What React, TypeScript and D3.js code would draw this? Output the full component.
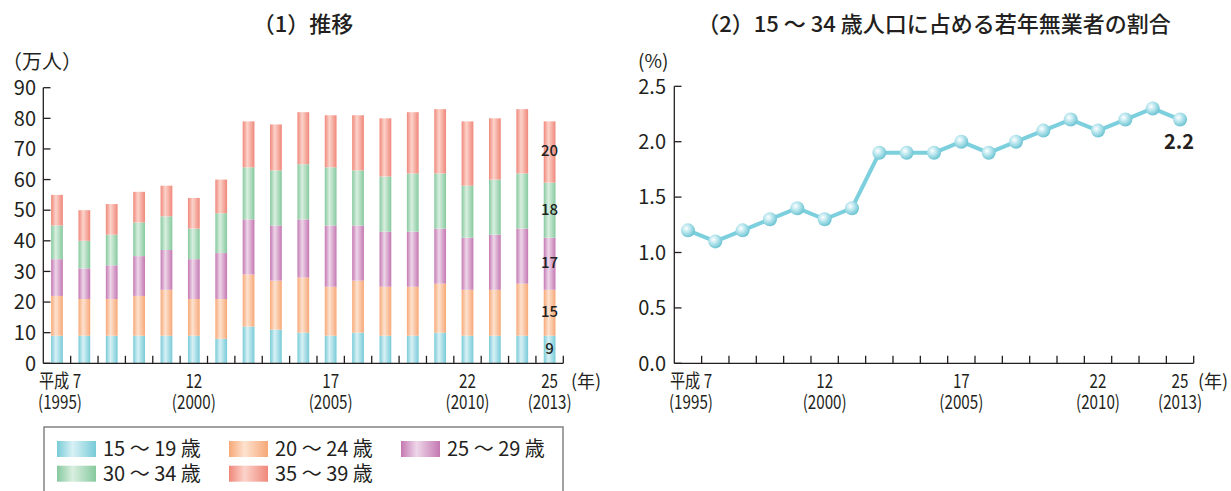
import React from 'react'
import * as d3 from 'd3'

// years (category axis) shared by both panels
const years = [1995, 1996, 1997, 1998, 1999, 2000, 2001, 2002, 2003, 2004, 2005, 2006, 2007, 2008, 2009, 2010, 2011, 2012, 2013]

// (1) unemployed youth by age group, 10k persons
const age15to19 = [9, 9, 9, 9, 9, 9, 8, 12, 11, 10, 9, 10, 9, 9, 10, 9, 9, 9, 9]
const age20to24 = [13, 12, 12, 13, 15, 12, 13, 17, 16, 18, 16, 17, 16, 16, 16, 15, 15, 17, 15]
const age25to29 = [12, 10, 11, 13, 13, 13, 15, 18, 18, 19, 20, 18, 18, 18, 18, 17, 18, 18, 17]
const age30to34 = [11, 9, 10, 11, 11, 10, 13, 17, 18, 18, 19, 18, 18, 19, 18, 17, 18, 18, 18]
const age35to39 = [10, 10, 10, 10, 10, 10, 11, 15, 15, 17, 17, 18, 19, 20, 21, 21, 20, 21, 20]

// (2) share of 15-34 population, %
const ratio = [1.2, 1.1, 1.2, 1.3, 1.4, 1.3, 1.4, 1.9, 1.9, 1.9, 2.0, 1.9, 2.0, 2.1, 2.2, 2.1, 2.2, 2.3, 2.2]

const xTickYears = [1995, 2000, 2005, 2010, 2013]
const xTickTop = ['平成 7', '12', '17', '22', '25']
const xTickBottom = ['(1995)', '(2000)', '(2005)', '(2010)', '(2013)']
const leftTicks = [0, 10, 20, 30, 40, 50, 60, 70, 80, 90]
const rightTicks = [0, 0.5, 1.0, 1.5, 2.0, 2.5]

const groups = [
  { key: 'a', label: '15 ～ 19 歳', values: age15to19, edge: '#78cbd8', light: '#d8f1f5' },
  { key: 'b', label: '20 ～ 24 歳', values: age20to24, edge: '#f7a877', light: '#fde2cf' },
  { key: 'c', label: '25 ～ 29 歳', values: age25to29, edge: '#c478b2', light: '#eed6e9' },
  { key: 'd', label: '30 ～ 34 歳', values: age30to34, edge: '#86c99e', light: '#d9efe0' },
  { key: 'e', label: '35 ～ 39 歳', values: age35to39, edge: '#f0877a', light: '#fcd3ca' },
]

const FONT = '"Noto Sans CJK JP", "Noto Sans", sans-serif'
const INK = '#231f20'

const W = 1231
const H = 491

export default function App() {
  // shared vertical frame
  const y0 = 363.3

  // left panel scales
  const xL = d3.scaleBand<number>().domain(years).range([43.3, 563.3]).padding(0)
  const yL = d3.scaleLinear().domain([0, 90]).range([y0, 87.7])

  // right panel scales
  const xR = d3.scaleBand<number>().domain(years).range([674.3, 1193.7]).padding(0)
  const yR = d3.scaleLinear().domain([0, 2.5]).range([y0, 86.3])

  const table = years.map((yr, i) => {
    const row: any = { year: yr }
    groups.forEach(g => { row[g.key] = g.values[i] })
    return row
  })
  const stack = d3.stack<any>().keys(groups.map(g => g.key))
  const series = stack(table)

  const barW = xL.bandwidth() * 0.43
  const lastIdx = years.length - 1

  const line = d3.line<number>()
    .x((_, i) => (xR(years[i]) as number) + xR.bandwidth() / 2)
    .y(d => yR(d))

  const xTickMarks = (scale: d3.ScaleBand<number>) => {
    const [a, b] = scale.range()
    const out: number[] = []
    for (let k = 1; k <= years.length; k++) out.push(a + (k * (b - a)) / years.length)
    return out
  }

  // condensed two-line year labels
  const xLabels = (scale: d3.ScaleBand<number>) =>
    xTickYears.map((yr, i) => {
      const cx = (scale(yr) as number) + scale.bandwidth() / 2 + (i === 0 ? 3 : 0)
      return (
        <g key={yr} transform={`translate(${cx},0) scale(0.8,1)`}>
          <text y={388} textAnchor="middle" fontSize={19}>{xTickTop[i]}</text>
          <text y={409} textAnchor="middle" fontSize={19}>{xTickBottom[i]}</text>
        </g>
      )
    })

  return (
    <>
      <style>{'body{margin:0}'}</style>
      <svg width={W} height={H} style={{ display: 'block', fontFamily: FONT }} fill={INK}>
        <defs>
          {groups.map(g => (
            <linearGradient key={g.key} id={`grad-${g.key}`} x1="0" x2="1" y1="0" y2="0">
              <stop offset="0" stopColor={g.edge} />
              <stop offset="0.4" stopColor={g.light} />
              <stop offset="1" stopColor={g.edge} />
            </linearGradient>
          ))}
          <radialGradient id="dot" cx="0.38" cy="0.36" r="0.65">
            <stop offset="0" stopColor="#ffffff" />
            <stop offset="0.45" stopColor="#b9e6ee" />
            <stop offset="1" stopColor="#6cc4d2" />
          </radialGradient>
        </defs>

        {/* ---------- (1) stacked bars ---------- */}
        <text x={303} y={32} textAnchor="middle" fontSize={22} fontWeight={500}>（1）推移</text>
        <text x={2} y={69} fontSize={20}>（万人）</text>

        {series.map((s, si) => (
          <g key={s.key}>
            {s.map((d, i) => (
              <rect
                key={i}
                x={(xL(years[i]) as number) + (xL.bandwidth() - barW) / 2}
                y={yL(d[1])}
                width={barW}
                height={yL(d[0]) - yL(d[1])}
                fill={`url(#grad-${groups[si].key})`}
              />
            ))}
          </g>
        ))}

        {/* value labels on the last bar */}
        {series.map(s => {
          const d = s[lastIdx]
          return (
            <text
              key={s.key}
              x={(xL(years[lastIdx]) as number) + xL.bandwidth() / 2}
              y={yL((d[0] + d[1]) / 2) - 1}
              dy="0.36em"
              textAnchor="middle"
              fontSize={15}
              fontWeight={500}
            >
              {d[1] - d[0]}
            </text>
          )
        })}

        <g stroke={INK} strokeWidth={1.3} fill="none">
          <line x1={43.3} x2={43.3} y1={yL(90)} y2={y0} />
          <line x1={43.3} x2={563.3} y1={y0} y2={y0} />
          {leftTicks.map(t => (
            <line key={t} x1={43.3} x2={50.5} y1={yL(t)} y2={yL(t)} />
          ))}
          {xTickMarks(xL).map(x => (
            <line key={x} x1={x} x2={x} y1={y0} y2={y0 - 7.5} />
          ))}
        </g>
        {leftTicks.map(t => (
          <text key={t} x={36} y={yL(t)} dy="0.36em" textAnchor="end" fontSize={20}>{t}</text>
        ))}
        {xLabels(xL)}
        <text x={571} y={388} fontSize={18}>(年)</text>

        {/* legend */}
        <rect x={44} y={427} width={519} height={80} fill="none" stroke="#7a7a7a" strokeWidth={1.4} />
        {groups.map((g, i) => {
          const col = i % 3
          const row = Math.floor(i / 3)
          const lx = 57 + col * 172
          const ly = 441 + row * 24.7
          return (
            <g key={g.key}>
              <rect x={lx} y={ly} width={39} height={16} fill={`url(#grad-${g.key})`} />
              <text x={lx + 46} y={ly + 8} dy="0.36em" fontSize={20}>{g.label}</text>
            </g>
          )
        })}

        {/* ---------- (2) line ---------- */}
        <text x={934} y={32} textAnchor="middle" fontSize={22} fontWeight={500}>（2）15 ～ 34 歳人口に占める若年無業者の割合</text>
        <text x={638} y={68} fontSize={19}>(%)</text>

        <path d={line(ratio) as string} fill="none" stroke="#7ccfdc" strokeWidth={4} strokeLinejoin="round" />
        {ratio.map((v, i) => (
          <circle
            key={i}
            cx={(xR(years[i]) as number) + xR.bandwidth() / 2}
            cy={yR(v)}
            r={7}
            fill="url(#dot)"
          />
        ))}
        <text
          x={(xR(years[lastIdx]) as number) + xR.bandwidth() / 2 - 1}
          y={yR(ratio[lastIdx]) + 29}
          textAnchor="middle"
          fontSize={20}
          fontWeight={700}
        >
          {ratio[lastIdx].toFixed(1)}
        </text>

        <g stroke={INK} strokeWidth={1.3} fill="none">
          <line x1={674.3} x2={674.3} y1={yR(2.5)} y2={y0} />
          <line x1={674.3} x2={1193.7} y1={y0} y2={y0} />
          {rightTicks.map(t => (
            <line key={t} x1={674.3} x2={681.5} y1={yR(t)} y2={yR(t)} />
          ))}
          {xTickMarks(xR).map(x => (
            <line key={x} x1={x} x2={x} y1={y0} y2={y0 - 7.5} />
          ))}
        </g>
        {rightTicks.map(t => (
          <text key={t} x={666} y={yR(t)} dy="0.36em" textAnchor="end" fontSize={20}>{t.toFixed(1)}</text>
        ))}
        {xLabels(xR)}
        <text x={1198} y={388} fontSize={18}>(年)</text>
      </svg>
    </>
  )
}
